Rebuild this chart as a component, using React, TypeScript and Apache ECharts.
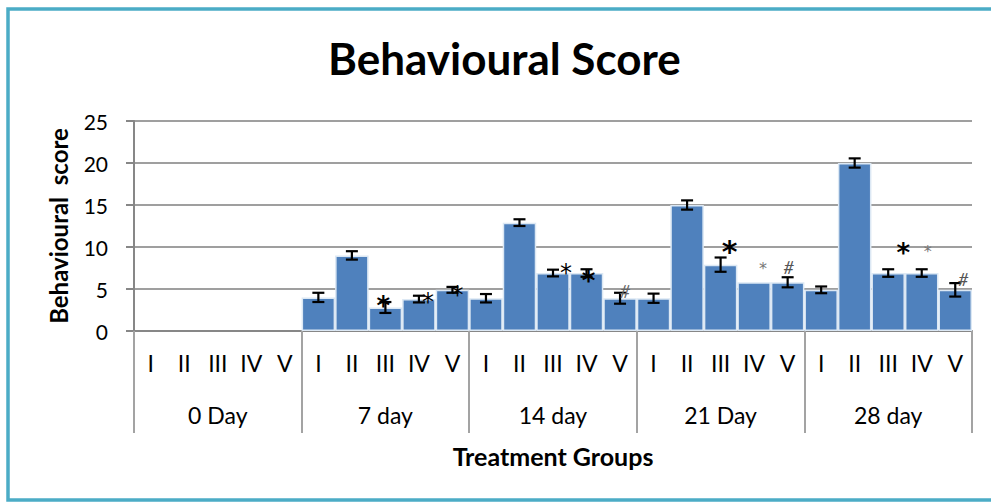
import React, { useEffect, useRef } from "react";
import * as echarts from "echarts";

const groups = ["0 Day", "7 day", "14 day", "21 Day", "28 day"];
const treatments = ["I", "II", "III", "IV", "V"];
const yTicks = [0, 5, 10, 15, 20, 25];

// mean scores per group (I..V)
const day0 = [0, 0, 0, 0, 0];
const day7 = [4, 9, 2.8, 3.8, 4.9];
const day14 = [3.9, 12.9, 6.9, 6.9, 3.9];
const day21 = [3.9, 15, 7.9, 5.8, 5.8];
const day28 = [4.9, 20, 6.9, 6.9, 4.9];

// error (±) per group
const err0 = [0, 0, 0, 0, 0];
const err7 = [0.55, 0.5, 0.65, 0.4, 0.35];
const err14 = [0.5, 0.4, 0.4, 0.45, 0.65];
const err21 = [0.55, 0.55, 0.85, 0, 0.6];
const err28 = [0.4, 0.55, 0.45, 0.45, 0.8];

// significance marks: category index (0..24), value level, symbol
const markIndex = [7, 8, 9, 12, 13, 14, 17, 18, 19, 22, 23, 24];
const markLevel = [3.6, 4.1, 4.9, 7.5, 6.6, 4.8, 10.3, 7.9, 7.6, 10.0, 9.9, 6.2];
const markSymbol = ["*", "*", "*", "*", "*", "#", "*", "*", "#", "*", "*", "#"];

// style of each mark: horizontal offset px, font size, colour
const markStyle = [
  { dx: -2, size: 26, color: "#000" },
  { dx: 9, size: 24, color: "#000" },
  { dx: 5, size: 24, color: "#000" },
  { dx: 13, size: 24, color: "#000" },
  { dx: 2, size: 26, color: "#000" },
  { dx: 5, size: 18, color: "#666" },
  { dx: 9, size: 30, color: "#000" },
  { dx: 9, size: 16, color: "#777" },
  { dx: 1, size: 18, color: "#555" },
  { dx: 15, size: 26, color: "#000" },
  { dx: 6, size: 16, color: "#777" },
  { dx: 8, size: 18, color: "#555" },
];

const FONT = "Lato, 'Open Sans', sans-serif";

export default function App() {
  const ref = useRef<HTMLDivElement>(null);

  useEffect(() => {
    if (!ref.current) return;
    const chart = echarts.init(ref.current, undefined, { renderer: "svg" });

    const categories: string[] = [];
    groups.forEach(() => treatments.forEach((t) => categories.push(t)));
    const means = [day0, day7, day14, day21, day28].flat();
    const errs = [err0, err7, err14, err21, err28].flat();

    const barData = means.map((v) => (v > 0 ? v : null));
    const errData = means
      .map((v, i) => [i, v, errs[i]])
      .filter((d) => d[2] > 0);
    const markData = markIndex.map((idx, i) => [idx, markLevel[i], i]);

    chart.setOption({
      animation: false,
      backgroundColor: "#fff",
      title: {
        text: "Behavioural Score",
        left: 323,
        top: 31,
        textStyle: {
          fontFamily: FONT,
          fontWeight: "bold",
          fontSize: 44,
          color: "#000",
        },
      },
      graphic: [
        {
          type: "rect",
          shape: { x: 8, y: 9, width: 1000, height: 491 },
          style: { fill: "none", stroke: "#4BACC6", lineWidth: 3.5 },
          z: 100,
        },
      ],
      grid: { left: 134, right: 19, top: 121, bottom: 172 },
      xAxis: [
        {
          type: "category",
          data: categories,
          position: "bottom",
          axisLine: { show: true, lineStyle: { color: "#878787", width: 2 } },
          axisTick: { show: false },
          axisLabel: {
            interval: 0,
            margin: 20,
            fontSize: 23,
            fontFamily: FONT,
            color: "#000",
          },
          splitLine: { show: false },
        },
        {
          type: "category",
          data: groups,
          position: "bottom",
          axisLine: { show: false },
          axisTick: {
            show: true,
            length: 102,
            lineStyle: { color: "#a3a3a3", width: 2 },
          },
          axisLabel: {
            interval: 0,
            margin: 72,
            fontSize: 23,
            fontFamily: FONT,
            color: "#000",
          },
          splitLine: { show: false },
          name: "Treatment Groups",
          nameLocation: "middle",
          nameGap: 112,
          nameTextStyle: {
            fontFamily: FONT,
            fontWeight: "bold",
            fontSize: 25,
            color: "#000",
          },
        },
      ],
      yAxis: {
        type: "value",
        min: yTicks[0],
        max: yTicks[yTicks.length - 1],
        interval: 5,
        axisLine: { show: true, lineStyle: { color: "#878787", width: 2 } },
        axisTick: {
          show: true,
          length: 8,
          lineStyle: { color: "#878787", width: 2 },
        },
        axisLabel: {
          margin: 26,
          fontSize: 21,
          fontFamily: FONT,
          color: "#000",
        },
        splitLine: { lineStyle: { color: "#9f9f9f", width: 2 } },
        name: "Behavioural  score",
        nameLocation: "middle",
        nameGap: 64,
        nameTextStyle: {
          fontFamily: FONT,
          fontWeight: "bold",
          fontSize: 24,
          color: "#000",
        },
      },
      series: [
        {
          type: "bar",
          xAxisIndex: 0,
          data: barData,
          barCategoryGap: "0%",
          itemStyle: {
            color: "#4F81BD",
            borderColor: "#DCE8F4",
            borderWidth: 1.5,
          },
          z: 2,
        },
        {
          type: "custom",
          xAxisIndex: 0,
          data: errData,
          z: 3,
          renderItem: (params: any, api: any) => {
            const idx = api.value(0);
            const m = api.value(1);
            const e = api.value(2);
            const top = api.coord([idx, m + e]);
            const bot = api.coord([idx, m - e]);
            const hw = 6;
            const st = { stroke: "#000", lineWidth: 2.2 };
            return {
              type: "group",
              children: [
                { type: "line", shape: { x1: top[0], y1: top[1], x2: bot[0], y2: bot[1] }, style: st },
                { type: "line", shape: { x1: top[0] - hw, y1: top[1], x2: top[0] + hw, y2: top[1] }, style: st },
                { type: "line", shape: { x1: bot[0] - hw, y1: bot[1], x2: bot[0] + hw, y2: bot[1] }, style: st },
              ],
            };
          },
        },
        {
          type: "custom",
          xAxisIndex: 0,
          data: markData,
          z: 4,
          renderItem: (params: any, api: any) => {
            const idx = api.value(0);
            const lvl = api.value(1);
            const k = api.value(2);
            const p = api.coord([idx, lvl]);
            const s = markStyle[k];
            const sym = markSymbol[k];
            const dy = sym === "*" ? s.size * 0.22 : 0;
            return {
              type: "text",
              x: p[0] + s.dx,
              y: p[1] + dy,
              style: {
                text: sym,
                fontSize: s.size,
                fontFamily: sym === "*" ? "'DejaVu Sans', sans-serif" : FONT,
                fontStyle: sym === "#" ? "italic" : "normal",
                fontWeight: sym === "*" && s.size >= 26 ? "bold" : "normal",
                fill: s.color,
                align: "center",
                verticalAlign: "middle",
              },
            };
          },
        },
      ],
    });

    return () => chart.dispose();
  }, []);

  return (
    <div
      ref={ref}
      style={{ position: "fixed", left: 0, top: 0, width: 991, height: 503 }}
    />
  );
}
